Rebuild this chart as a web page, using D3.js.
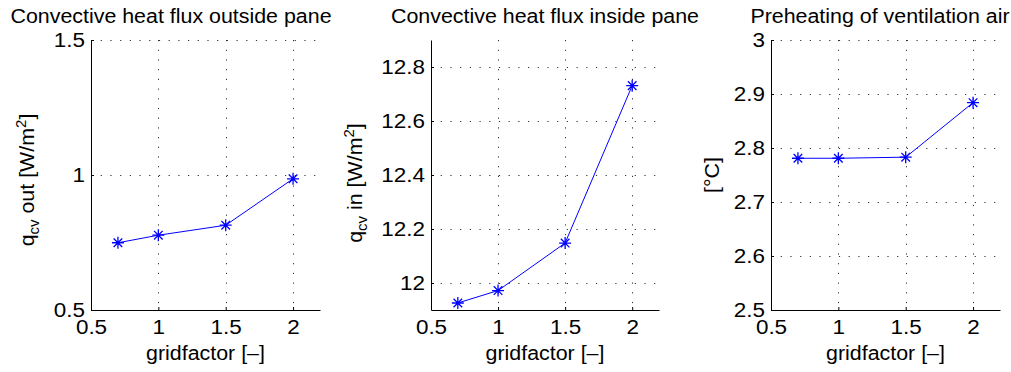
<!DOCTYPE html>
<html>
<head>
<meta charset="utf-8">
<script src="https://cdn.jsdelivr.net/npm/d3@7"></script>
<style>
body { margin: 0; background: #fff; }
svg text { font-family: "Liberation Sans", Arial, sans-serif; font-size: 20px; fill: #000; }
svg .tick text { font-size: 21px; }
</style>
</head>
<body>
<svg id="chart" width="1011" height="372"></svg>
<script>
// values
var gridfactor = [0.7, 1, 1.5, 2];
var qOut = [0.749, 0.777, 0.814, 0.986];
var qIn = [11.926, 11.972, 12.148, 12.731];
var preheat = [2.781, 2.781, 2.783, 2.884];

var xTicks = [0.5, 1, 1.5, 2];
var yTicksOut = [0.5, 1, 1.5];
var yTicksIn = [12, 12.2, 12.4, 12.6, 12.8];
var yTicksHeat = [2.5, 2.6, 2.7, 2.8, 2.9, 3];
var titles = ["Convective heat flux outside pane", "Convective heat flux inside pane", "Preheating of ventilation air"];

var svg = d3.select("#chart"),
    sx = 1.07,          // original font runs a bit wider than helvetica
    axTop = 40,
    axBottom = 310,
    fmt = d3.format("");

var panels = [
    {left: 91, right: 320, ydom: [0.5, 1.5], yticks: yTicksOut, values: qOut, title: titles[0], titleX: 171,
     ylab: [["q", 0], ["cv", 1], [" out [W/m", 0], ["2", 2], ["]", 0]], ylabX: 34, ylabY: 180},
    {left: 431, right: 659, ydom: [11.9, 12.9], yticks: yTicksIn, values: qIn, title: titles[1], titleX: 545,
     ylab: [["q", 0], ["cv", 1], [" in [W/m", 0], ["2", 2], ["]", 0]], ylabX: 362, ylabY: 183},
    {left: 771, right: 1000, ydom: [2.5, 3], yticks: yTicksHeat, values: preheat, title: titles[2], titleX: 880,
     ylab: [["[°C]", 0]], ylabX: 719, ylabY: 175}
];

panels.forEach(drawPanel);

function drawPanel(p) {
    var x = d3.scaleLinear().domain([0.5, 2.2]).range([p.left, p.right]),
        y = d3.scaleLinear().domain(p.ydom).range([axBottom, axTop]),
        g = svg.append("g");

    // dotted grid
    g.selectAll(".vgrid").data(xTicks.slice(1)).join("line")
        .attr("x1", function (d) { return Math.round(x(d)) + 0.5; })
        .attr("x2", function (d) { return Math.round(x(d)) + 0.5; })
        .attr("y1", axTop).attr("y2", axBottom)
        .attr("stroke", "#333").attr("stroke-dasharray", "1.2,8.5");
    g.selectAll(".hgrid").data(p.yticks.filter(function (d) { return d > p.ydom[0]; })).join("line")
        .attr("y1", function (d) { return Math.round(y(d)) + 0.5; })
        .attr("y2", function (d) { return Math.round(y(d)) + 0.5; })
        .attr("x1", p.left).attr("x2", p.right)
        .attr("stroke", "#333").attr("stroke-dasharray", "1.2,8.5");

    // axes, ticks pointing inward like matlab
    var xa = g.append("g").attr("transform", "translate(0," + axBottom + ")")
        .call(d3.axisBottom(x).tickValues(xTicks).tickFormat(fmt)
            .tickSizeInner(-3).tickSizeOuter(0).tickPadding(9));
    var ya = g.append("g").attr("transform", "translate(" + p.left + ",0)")
        .call(d3.axisLeft(y).tickValues(p.yticks).tickFormat(fmt)
            .tickSizeInner(-3).tickSizeOuter(0).tickPadding(6));
    [xa, ya].forEach(function (a) {
        a.attr("font-size", null).attr("font-family", null);
        a.select(".domain").attr("stroke", "#000");
        a.selectAll(".tick line").attr("stroke", "#000");
    });
    xa.selectAll(".tick text").attr("transform", "scale(" + sx + ",1)")
        .attr("x", 0);
    ya.selectAll(".tick text").attr("transform", "scale(" + sx + ",1)")
        .attr("x", -6 / sx);

    // data line + asterisk markers
    var line = d3.line()
        .x(function (d, i) { return x(gridfactor[i]); })
        .y(function (d) { return y(d); });
    g.append("path").datum(p.values)
        .attr("d", line).attr("fill", "none")
        .attr("stroke", "#0000ff").attr("stroke-width", 1);
    g.selectAll(".mark").data(p.values).join("path")
        .attr("d", function (d, i) {
            var cx = x(gridfactor[i]), cy = y(d), r = 6, q = 4.3;
            return "M" + (cx - r) + "," + cy + "H" + (cx + r) +
                "M" + cx + "," + (cy - r) + "V" + (cy + r) +
                "M" + (cx - q) + "," + (cy - q) + "L" + (cx + q) + "," + (cy + q) +
                "M" + (cx - q) + "," + (cy + q) + "L" + (cx + q) + "," + (cy - q);
        })
        .attr("fill", "none").attr("stroke", "#0000ff").attr("stroke-width", 1.3);

    // title
    g.append("text")
        .attr("transform", "translate(" + p.titleX + ",23) scale(" + sx + ",1)")
        .attr("text-anchor", "middle")
        .text(p.title);

    // xlabel
    g.append("text")
        .attr("transform", "translate(" + ((p.left + p.right) / 2) + ",360) scale(" + sx + ",1)")
        .attr("text-anchor", "middle")
        .text("gridfactor [\u2013]");

    // ylabel with sub/superscripts
    var yl = g.append("text")
        .attr("transform", "translate(" + p.ylabX + "," + p.ylabY + ") rotate(-90) scale(" + sx + ",1)")
        .attr("text-anchor", "middle");
    var shift = 0;
    p.ylab.forEach(function (part) {
        var target = part[1] == 1 ? 5 : part[1] == 2 ? -8 : 0;
        yl.append("tspan")
            .attr("dy", target - shift)
            .style("font-size", part[1] ? "14px" : "20px")
            .text(part[0]);
        shift = target;
    });
}
</script>
</body>
</html>
